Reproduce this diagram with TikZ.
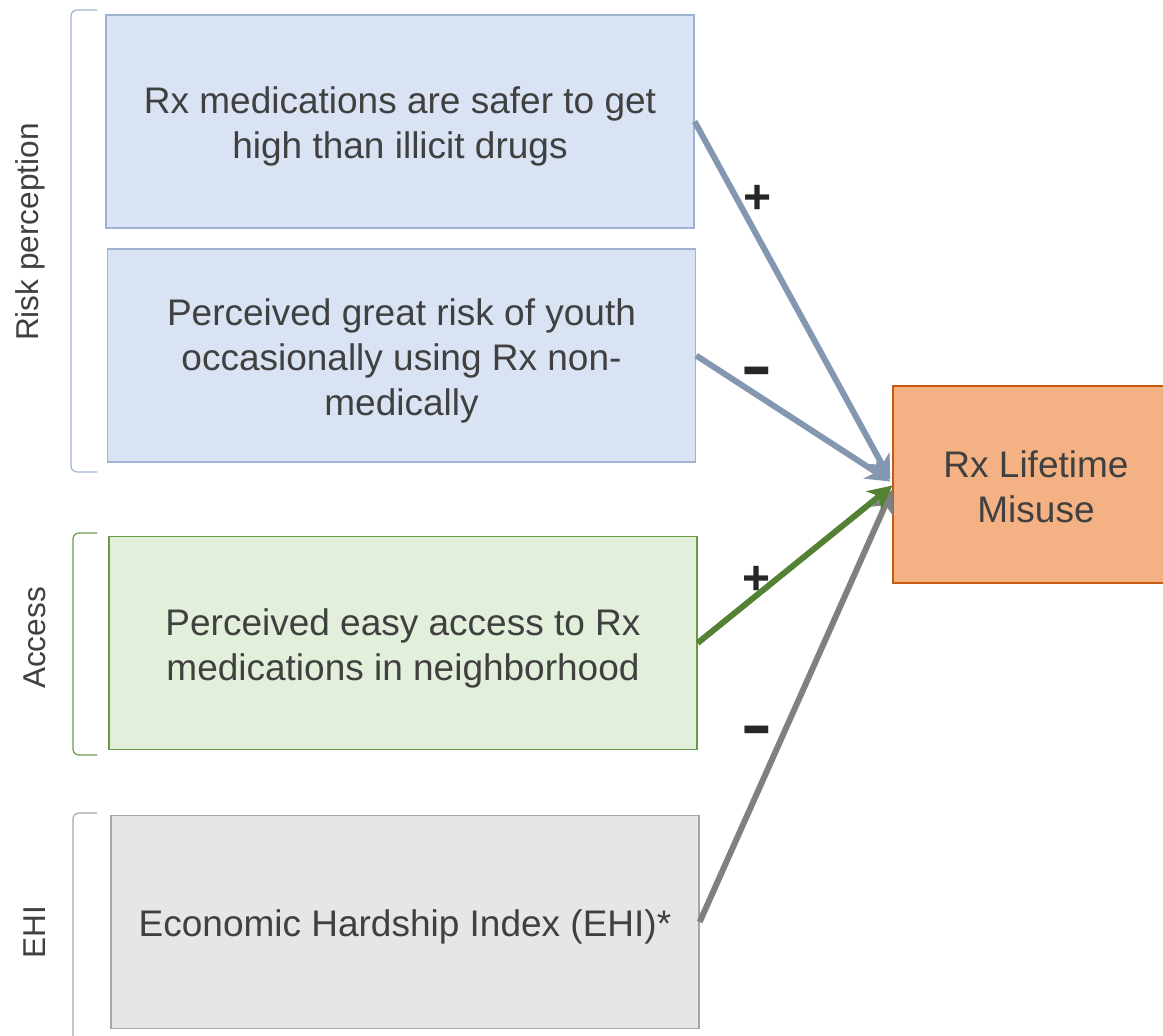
\documentclass[tikz,border=0pt]{standalone}
\usepackage{fontspec}
\setmainfont{Liberation Sans}
\usepackage{xcolor}
\usetikzlibrary{arrows.meta,calc}
\definecolor{cRiskFill}{HTML}{DAE3F3}
\definecolor{cRiskLine}{HTML}{9EB2D2}
\definecolor{cRiskArrow}{HTML}{8497B0}
\definecolor{cAccFill}{HTML}{E2EFDA}
\definecolor{cAccLine}{HTML}{6A9A48}
\definecolor{cAccArrow}{HTML}{548235}
\definecolor{cEhiFill}{HTML}{E7E6E6}
\definecolor{cEhiLine}{HTML}{A6A6A6}
\definecolor{cEhiArrow}{HTML}{808080}
\definecolor{cOutFill}{HTML}{F4B183}
\definecolor{cOutLine}{HTML}{C55A11}
\definecolor{cText}{HTML}{404040}
\definecolor{cSign}{HTML}{262626}
\tikzset{
  box/.style={draw=#1Line, fill=#1Fill, line width=0.65pt, text=cText, align=center,
              font=\fontsize{18.5}{22.5}\selectfont, minimum width=294pt, minimum height=106.5pt},
  grp/.style={rotate=90, text=cText, font=\fontsize{15.8}{18}\selectfont},
  brace/.style={draw=#1, line width=0.6pt, rounded corners=3pt},
  sign/.style={text=cSign, font=\bfseries\fontsize{24}{24}\selectfont, inner sep=0pt},
  flow/.style={-{Stealth[length=12pt, width=12pt, inset=3.5pt]}, line width=3pt, draw=#1},
}
\newcommand{\lift}[1][18.5pt]{\rule{0pt}{#1}}
\newcommand{\minussign}{\scalebox{1}[1.6]{\textendash}}
\begin{document}
\begin{tikzpicture}[x=0.5pt, y=-0.5pt]
\clip (0,0) rectangle (1163,1035);
\node[box=cRisk] (safer) at (400,121.5) {\lift Rx medications are safer to get\\high than illicit drugs};
\node[box=cRisk] (risk) at (401.5,355.5) {\lift Perceived great risk of youth\\occasionally using Rx non-\\medically};
\node[box=cAcc] (access) at (403,643) {\lift Perceived easy access to Rx\\medications in neighborhood};
\node[box=cEhi] (ehi) at (405,922) {\lift Economic Hardship Index (EHI)*};
\node[box=cOut, minimum width=143pt, minimum height=98.5pt] (misuse) at (1036,484.5) {\lift[15.5pt]Rx Lifetime\\Misuse};
% group brackets
\draw[brace=cRiskLine] (97,10) -- (71,10) -- (71,472) -- (97,472);
\draw[brace=cAccLine] (97,533) -- (73,533) -- (73,755) -- (97,755);
\draw[brace=cEhiLine] (97,813) -- (73,813) -- (73,1050);
\node[grp] (riskgrp) at (30,232) {Risk perception};
\node[grp] (accgrp) at (35,638) {Access};
\node[grp] (ehigrp) at (35,932) {EHI};
% effects
\draw[flow=cRiskArrow] (safer.east) -- ($(misuse.west)+(-2,-5)$);
\draw[flow=cRiskArrow] (risk.east) -- ($(misuse.west)+(-2,-3)$);
\draw[flow=cEhiArrow] (ehi.east) -- ($(misuse.west)+(0,5)$);
\draw[flow=cAccArrow] (access.east) -- ($(misuse.west)+(0,1)$);
\node[sign] (s1) at (758,199) {+};
\node[sign] (s2) at (757,379) {\minussign};
\node[sign] (s3) at (757,580) {+};
\node[sign] (s4) at (757,738) {\minussign};
\end{tikzpicture}
\end{document}
